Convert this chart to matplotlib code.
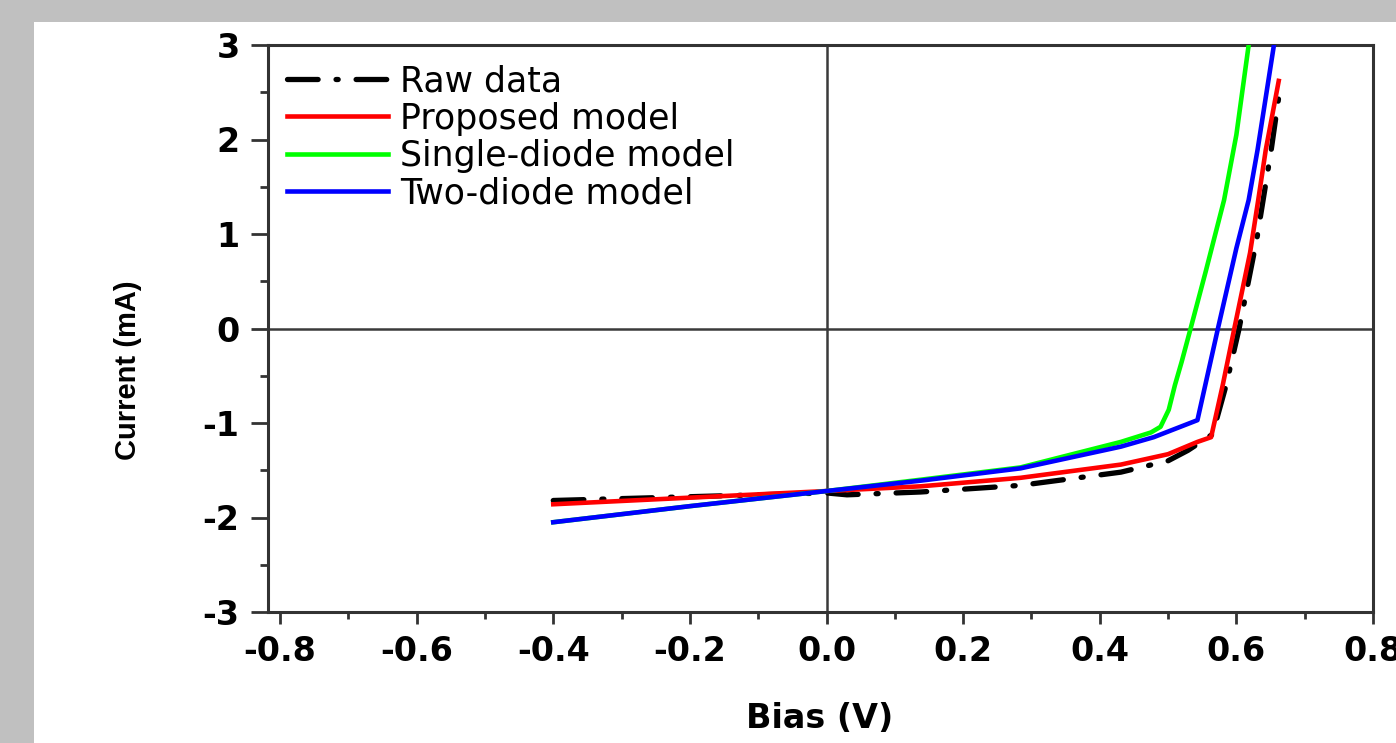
import numpy as np
import matplotlib
matplotlib.use("Agg")
import matplotlib.pyplot as plt
from matplotlib.patches import Rectangle
from matplotlib.ticker import MultipleLocator, FormatStrFormatter

plt.rcParams['axes.unicode_minus'] = False
plt.rcParams['font.family'] = ['DejaVu Sans']

# Dữ liệu (Bias V, Current mA)
raw_x = [-0.40, -0.20, 0.00, 0.03, 0.138, 0.284, 0.431, 0.50, 0.529, 0.565, 0.585, 0.604, 0.63, 0.651, 0.665]
raw_y = [-1.82, -1.78, -1.74, -1.76, -1.73, -1.66, -1.52, -1.40, -1.29, -1.12, -0.60, 0.00, 0.95, 1.89, 2.60]

prop_x = [-0.40, -0.20, 0.00, 0.138, 0.284, 0.431, 0.50, 0.543, 0.563, 0.58, 0.597, 0.62, 0.632, 0.643, 0.662]
prop_y = [-1.86, -1.79, -1.72, -1.67, -1.58, -1.44, -1.33, -1.20, -1.15, -0.60, 0.00, 0.80, 1.36, 1.89, 2.62]

single_x = [-0.40, -0.20, 0.00, 0.138, 0.284, 0.431, 0.475, 0.489, 0.501, 0.51, 0.52, 0.533, 0.555, 0.582, 0.60, 0.618]
single_y = [-2.05, -1.88, -1.72, -1.60, -1.47, -1.20, -1.10, -1.04, -0.86, -0.60, -0.35, 0.00, 0.60, 1.36, 2.05, 3.00]

two_x = [-0.40, -0.20, 0.00, 0.138, 0.284, 0.431, 0.479, 0.543, 0.573, 0.60, 0.618, 0.631, 0.655]
two_y = [-2.05, -1.88, -1.72, -1.61, -1.48, -1.25, -1.15, -0.97, 0.00, 0.85, 1.36, 1.89, 3.00]

labels = ["Raw data", "Proposed model", "Single-diode model", "Two-diode model"]

fig = plt.figure(figsize=(13.96, 7.43), dpi=100, facecolor="#c0c0c0")
# nền trắng bên trong khung xám
fig.patches.append(Rectangle((34 / 1396, 0), 1 - 34 / 1396, 1 - 22 / 743,
                             transform=fig.transFigure, facecolor="white",
                             edgecolor="none", zorder=-10))

ax = fig.add_axes([268 / 1396, 1 - 612 / 743, 1105 / 1396, 567 / 743])
ax.set_zorder(1)

ax.axhline(0, color="#3a3a3a", lw=1.8, zorder=1)
ax.axvline(0, color="#3a3a3a", lw=1.8, zorder=1)

ax.plot(raw_x, raw_y, color="black", lw=3.8, dashes=(5.8, 3.4, 0.4, 3.4),
        dash_capstyle="round", label=labels[0], zorder=2)
ax.plot(prop_x, prop_y, color="#ff0000", lw=3.3, label=labels[1], zorder=3)
ax.plot(single_x, single_y, color="#00ff00", lw=3.3, label=labels[2], zorder=3)
ax.plot(two_x, two_y, color="#0000ff", lw=3.3, label=labels[3], zorder=4)

ax.set_xlim(-0.8176, 0.8)
ax.set_ylim(-3, 3)

ax.xaxis.set_major_locator(MultipleLocator(0.2))
ax.xaxis.set_minor_locator(MultipleLocator(0.1))
ax.xaxis.set_major_formatter(FormatStrFormatter("%.1f"))
ax.yaxis.set_major_locator(MultipleLocator(1))
ax.yaxis.set_minor_locator(MultipleLocator(0.5))

ax.tick_params(axis="x", which="major", direction="out", length=8.5, width=2,
               pad=8, labelsize=24, color="#333333")
ax.tick_params(axis="x", which="minor", direction="out", length=5, width=2,
               color="#333333")
ax.tick_params(axis="y", which="major", direction="out", length=12.5, width=2,
               pad=8, labelsize=24, color="#333333")
ax.tick_params(axis="y", which="minor", direction="out", length=6, width=2,
               color="#333333")
for t in ax.get_xticklabels() + ax.get_yticklabels():
    t.set_fontweight("bold")

for s in ax.spines.values():
    s.set_linewidth(2.2)
    s.set_color("#333333")

ax.text(-0.1267, 0.4268, "Current (mA)", transform=ax.transAxes, rotation=90,
        ha="center", va="center", fontsize=21, fontweight="bold",
        family=["Liberation Sans"])
ax.text(0.4995, -0.187, "Bias (V)", transform=ax.transAxes,
        ha="center", va="center", fontsize=24, fontweight="bold")

leg = ax.legend(loc="upper left", bbox_to_anchor=(0.0, 1.0), frameon=False,
                fontsize=25, handlelength=2.9, handletextpad=0.35,
                labelspacing=0.1, borderaxespad=0.35, borderpad=0.2)

fig.savefig("out.png", dpi=100, facecolor=fig.get_facecolor())
